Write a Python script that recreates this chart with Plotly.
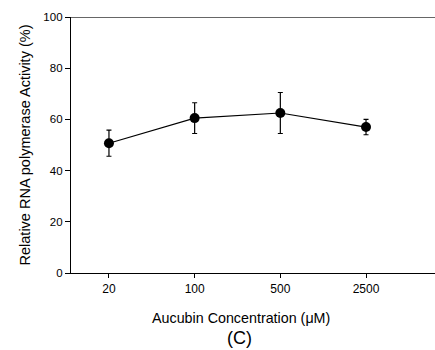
import plotly.graph_objects as go

categories = ["20", "100", "500", "2500"]
activity = [50.7, 60.5, 62.5, 57.0]
errors = [5.1, 6.0, 8.0, 3.0]

FONT = "Arial, Liberation Sans, sans-serif"

fig = go.Figure()
fig.add_trace(go.Scatter(
    x=list(range(len(categories))), y=activity,
    mode="lines+markers",
    line=dict(color="black", width=1.2),
    marker=dict(color="black", size=10),
    error_y=dict(type="data", array=errors, color="black", thickness=1.2, width=2.5),
    showlegend=False,
))

fig.update_layout(
    width=435, height=350,
    margin=dict(l=71, r=0, t=17, b=77),
    plot_bgcolor="white", paper_bgcolor="white",
    font=dict(family=FONT, color="black", size=11),
    xaxis=dict(
        range=[-0.443, 3.805],
        tickmode="array", tickvals=list(range(len(categories))), ticktext=categories,
        showline=True, linecolor="black", linewidth=1.3,
        ticks="outside", ticklen=4, tickcolor="black",
        showgrid=False, zeroline=False,
        tickfont=dict(size=12),
    ),
    yaxis=dict(
        range=[0, 100], tickvals=[0, 20, 40, 60, 80, 100],
        showline=True, linecolor="black", linewidth=1.3,
        ticks="outside", ticklen=5, tickcolor="black",
        showgrid=False, zeroline=False,
        tickfont=dict(size=11.5),
        title=dict(text="Relative RNA polymerase Activity (%)", font=dict(size=14.5), standoff=9),
    ),
    shapes=[dict(type="line", xref="paper", yref="y", x0=0, x1=1, y0=100, y1=100,
                 line=dict(color="#333", width=1.5))],
    annotations=[
        dict(text="Aucubin Concentration (\u03bcM)", xref="paper", yref="paper",
             x=0.466, y=-0.176, xanchor="center", yanchor="middle", showarrow=False,
             font=dict(size=14.3, family=FONT, color="black")),
        dict(text="(C)", xref="paper", yref="paper", x=0.464, y=-0.254,
             xanchor="center", yanchor="middle", showarrow=False,
             font=dict(size=18, family=FONT, color="black")),
    ],
)

fig.write_html("out.html")
